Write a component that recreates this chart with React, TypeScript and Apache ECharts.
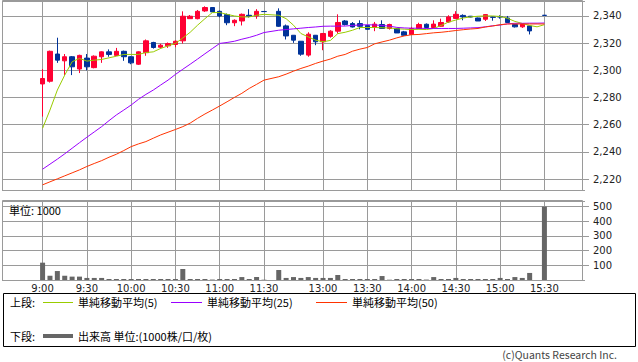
import React, { useEffect, useRef } from "react";
import * as echarts from "echarts";

const PRE_SLOTS = ["8:35", "8:40", "8:45", "8:50", "8:55"];
const AM_TIMES = ["9:00","9:05","9:10","9:15","9:20","9:25","9:30","9:35","9:40","9:45","9:50","9:55","10:00","10:05","10:10","10:15","10:20","10:25","10:30","10:35","10:40","10:45","10:50","10:55","11:00","11:05","11:10","11:15","11:20","11:25","11:30"];
const GAP_SLOTS = ["12:00"];
const PM_TIMES = ["12:30","12:35","12:40","12:45","12:50","12:55","13:00","13:05","13:10","13:15","13:20","13:25","13:30","13:35","13:40","13:45","13:50","13:55","14:00","14:05","14:10","14:15","14:20","14:25","14:30","14:35","14:40","14:45","14:50","14:55","15:00","15:05","15:10","15:15","15:20","15:25","15:30"];
const POST_SLOTS = ["15:35", "15:40", "15:45", "15:50", "15:55"];
const LABEL_TIMES = ["9:00","9:30","10:00","10:30","11:00","11:30","13:00","13:30","14:00","14:30","15:00","15:30"];

// [open, close, low, high]
const AM_OHLC = [
  [2290, 2294, 2266, 2301], [2292, 2314, 2291, 2314.5], [2312, 2307.5, 2305.5, 2324], [2307, 2310, 2296.5, 2312],
  [2310, 2302.6, 2296.5, 2310.5], [2301, 2311, 2298, 2311.5], [2309, 2302.6, 2300, 2312], [2302, 2310.4, 2301.5, 2311],
  [2310, 2313.6, 2305.5, 2314], [2313.6, 2311.7, 2310, 2315.4], [2311, 2314, 2310.5, 2316.5], [2314, 2310, 2307, 2314.5],
  [2310, 2305.5, 2304.5, 2310.5], [2304.5, 2313.6, 2304, 2314], [2313, 2321.7, 2310.7, 2322.7], [2320.5, 2316.8, 2316, 2321],
  [2317, 2318.5, 2316, 2319.5], [2318, 2319.7, 2316.5, 2320.5], [2319, 2321.4, 2317, 2322], [2321.7, 2339.8, 2319.7, 2343.4],
  [2338, 2339.8, 2338, 2340.7], [2338, 2343.4, 2337.5, 2344.4], [2343.7, 2346.2, 2343, 2347.1], [2346.2, 2343, 2342.9, 2346.5],
  [2343.4, 2340, 2339, 2344], [2341, 2335, 2333.2, 2341.8], [2335, 2336.8, 2332.5, 2337.5], [2336.3, 2341.2, 2333, 2341.8],
  [2340.5, 2339.8, 2338.8, 2345], [2340, 2343.4, 2337.9, 2345], [2343.3, 2343.2, 2343, 2343.5]
];
const PM_OHLC = [
  [2343.4, 2332.4, 2332, 2345.6], [2332.7, 2325.3, 2322.7, 2333.7], [2325.8, 2322.2, 2320.2, 2326], [2321.4, 2311.9, 2310.7, 2321.5],
  [2311.2, 2326.6, 2310, 2328], [2325.8, 2321, 2318.5, 2326], [2321, 2327.1, 2314.8, 2327.5], [2325, 2328.8, 2324, 2329.5],
  [2328.8, 2335.2, 2327, 2341.2], [2336.3, 2333.7, 2333, 2337], [2334.4, 2331.9, 2331.5, 2335.5], [2334.4, 2332.4, 2330.2, 2336.8],
  [2333, 2330.2, 2330, 2333.3], [2331.5, 2334, 2328.8, 2335.6], [2333.7, 2330.8, 2330.5, 2336.8], [2330.8, 2333.7, 2330, 2334.3],
  [2330.8, 2327.5, 2327.5, 2331], [2328.3, 2325.8, 2325.5, 2329], [2326.4, 2330.8, 2326, 2332], [2330.8, 2333.7, 2330.5, 2335],
  [2333.9, 2331.5, 2330.8, 2334.5], [2331.5, 2334, 2331, 2336.8], [2332.4, 2335.2, 2332, 2338], [2335.6, 2339.3, 2335, 2340.5],
  [2338.2, 2341.2, 2338, 2343.5], [2340.4, 2339.3, 2336.8, 2341.2], [2339.8, 2339.2, 2339, 2340], [2338.5, 2336.3, 2336.3, 2338.8],
  [2337.6, 2341, 2336.3, 2341.3], [2339.2, 2339, 2336.5, 2339.5], [2339.4, 2339.3, 2338, 2340.5], [2338.5, 2335.2, 2335, 2340],
  [2333.7, 2332, 2331.5, 2334], [2332, 2334, 2331.2, 2334.3], [2332.7, 2329, 2326.4, 2333], null, [2340.5, 2340.4, 2340.3, 2340.6]
];

const AM_MA5 = [2257.4, 2270.8, 2285.5, 2296.5, 2306.3, 2308.8, 2306.8, 2307.5, 2308, 2309.2, 2310.4, 2311.7, 2311.7, 2311.7, 2313.1, 2313.6, 2316.1, 2318, 2319.8, 2323.8, 2328, 2333.2, 2338, 2342.5, 2342.5, 2341.2, 2340, 2339.3, 2339.3, 2340.5, 2341.2];
const PM_MA5 = [2340.5, 2338, 2333.2, 2327.1, 2324.6, 2322.2, 2321, 2322, 2327, 2328, 2329.5, 2331.5, 2331.5, 2331.5, 2331.3, 2331.2, 2330.6, 2330.3, 2330, 2330.2, 2330, 2330.8, 2333, 2335.5, 2337, 2338.5, 2339.3, 2339.8, 2340, 2340, 2339.6, 2338.3, 2336, 2334.5, 2333, 2332, 2333.6];
const AM_MA25 = [2227.3, 2231, 2234.7, 2238.6, 2242.7, 2246.8, 2250.8, 2254.7, 2258.6, 2263, 2267.2, 2270.8, 2274.5, 2278.7, 2282.3, 2285.5, 2289.2, 2292.8, 2297, 2300.8, 2304.5, 2308.3, 2312.2, 2316, 2319.8, 2320.5, 2321.4, 2322.9, 2324.2, 2325.8, 2327.8];
const PM_MA25 = [2329.5, 2330, 2330.5, 2331, 2331.5, 2331.9, 2332.4, 2332.5, 2332.5, 2332.6, 2333, 2333.4, 2333.5, 2333.4, 2333, 2332.5, 2331.6, 2331.2, 2331, 2331, 2330.8, 2330.8, 2330.8, 2330.8, 2330.8, 2331, 2331.2, 2331.4, 2332, 2332.8, 2333.3, 2334.2, 2334.6, 2334.6, 2334.7, 2334.7, 2334.8];
const AM_MA50 = [2215.8, 2218, 2220.2, 2222.4, 2224.6, 2226.8, 2229.3, 2231.5, 2233.6, 2236.1, 2238.3, 2241, 2243.9, 2245.9, 2247.6, 2250.1, 2252.5, 2254.5, 2256.5, 2258.6, 2261.2, 2264.7, 2267.9, 2270.8, 2273.8, 2276.9, 2280.1, 2283.1, 2286.7, 2289.7, 2292.8];
const PM_MA50 = [2295.3, 2297.2, 2299.4, 2301.4, 2303.1, 2305.1, 2306.8, 2308.3, 2310.4, 2311.7, 2314.1, 2315.6, 2316.8, 2319.5, 2320.9, 2322.2, 2323.9, 2325.3, 2326.2, 2326.4, 2327, 2327.6, 2328, 2328.6, 2329.3, 2329.9, 2330.4, 2330.8, 2331.9, 2332.6, 2333.6, 2334.1, 2334.1, 2334.1, 2334.1, 2334.1, 2334.1];

const AM_VOL = [118, 29, 61, 29, 23, 23, 14, 14, 14, 7, 7, 7, 7, 7, 7, 7, 7, 7, 7, 75, 7, 7, 7, 3, 7, 7, 7, 20, 7, 20, 2];
const PM_VOL = [68, 14, 20, 14, 20, 14, 14, 14, 34, 7, 7, 7, 7, 7, 27, 2, 7, 7, 7, 7, 3, 20, 7, 7, 14, 7, 7, 7, 7, 7, 14, 7, 20, 14, 48, null, 500];

const UP = "#ff0033";
const DOWN = "#003399";
const GRID = "#9a9a9a";
const AXIS_FONT = "DejaVu Sans";
const JP_FONT = "Noto Sans CJK JP";

function pad(n: number) {
  return Array.from({ length: n }, () => null);
}
function full(am: any[], pm: any[]) {
  return [...pad(PRE_SLOTS.length), ...am, ...pad(GAP_SLOTS.length), ...pm, ...pad(POST_SLOTS.length)];
}

export default function App() {
  const ref = useRef<HTMLDivElement>(null);
  useEffect(() => {
    if (!ref.current) return;
    const chart = echarts.init(ref.current, undefined, { renderer: "svg" });
    const cats = [...PRE_SLOTS, ...AM_TIMES, ...GAP_SLOTS, ...PM_TIMES, ...POST_SLOTS];
    const isLabel = (_i: number, v: string) => LABEL_TIMES.indexOf(v) >= 0;
    const candles = full(AM_OHLC, PM_OHLC).map((d) => (d == null ? "-" : d));
    const fmt = (v: number) => Math.round(v).toLocaleString("en-US");
    const xBase = (grid: number, labels: boolean) => ({
      type: "category",
      gridIndex: grid,
      data: cats,
      boundaryGap: true,
      axisLine: { show: false },
      axisTick: { show: false },
      axisLabel: labels
        ? { show: true, interval: isLabel, margin: 3, fontSize: 10, fontFamily: AXIS_FONT, color: "#222" }
        : { show: false },
      splitLine: { show: true, interval: isLabel, alignWithLabel: true, lineStyle: { color: GRID, width: 1 } },
    });
    const yBase = (grid: number, min: number, max: number, split: number) => ({
      type: "value",
      gridIndex: grid,
      position: "right",
      min,
      max,
      splitNumber: split,
      axisLine: { show: false },
      axisTick: { show: true, length: 4, lineStyle: { color: GRID } },
      axisLabel: {
        margin: 8,
        fontSize: 10,
        fontFamily: AXIS_FONT,
        color: "#222",
        formatter: fmt,
        showMinLabel: false,
        showMaxLabel: false,
      },
      splitLine: { show: true, lineStyle: { color: GRID, width: 1 } },
    });
    const line = (am: number[], pm: number[], color: string) => ({
      type: "line",
      xAxisIndex: 0,
      yAxisIndex: 0,
      data: full(am, pm),
      symbol: "none",
      connectNulls: true,
      lineStyle: { color, width: 1 },
      itemStyle: { color },
      z: 3,
    });
    const text = (x: number, y: number, t: string, extra: any = {}) => ({
      type: "text",
      x,
      y,
      style: { text: t, fontSize: 11, fontFamily: JP_FONT, fill: "#000", verticalAlign: "middle", ...extra },
    });
    const hline = (x1: number, x2: number, y: number, color: string, w: number) => ({
      type: "line",
      shape: { x1, y1: y, x2, y2: y },
      style: { stroke: color, lineWidth: w },
    });
    chart.setOption({
      animation: false,
      grid: [
        { left: 2, top: 1, width: 583, height: 189 },
        { left: 2, top: 201, width: 583, height: 79 },
      ],
      xAxis: [xBase(0, false), xBase(1, true)],
      yAxis: [yBase(0, 2212, 2351, 7), yBase(1, 0, 538, 5)],
      series: [
        {
          type: "candlestick",
          xAxisIndex: 0,
          yAxisIndex: 0,
          data: candles,
          barWidth: 5,
          itemStyle: { color: UP, color0: DOWN, borderColor: UP, borderColor0: DOWN, borderWidth: 1 },
          z: 2,
        },
        line(AM_MA5, PM_MA5, "#99cc00"),
        line(AM_MA25, PM_MA25, "#9900ff"),
        line(AM_MA50, PM_MA50, "#ff3300"),
        {
          type: "bar",
          xAxisIndex: 1,
          yAxisIndex: 1,
          data: full(AM_VOL, PM_VOL),
          barWidth: 5,
          itemStyle: { color: "#666666" },
        },
      ],
      graphic: [
        { type: "rect", shape: { x: 2.5, y: 0.5, width: 580, height: 190 }, style: { fill: "none", stroke: GRID, lineWidth: 1 }, z: 10 },
        { type: "rect", shape: { x: 2.5, y: 200.5, width: 580, height: 80 }, style: { fill: "none", stroke: GRID, lineWidth: 1 }, z: 10 },
        text(9, 210, "単位: 1000"),
        { type: "rect", shape: { x: 3.5, y: 293.5, width: 632, height: 53 }, style: { fill: "none", stroke: "#000", lineWidth: 1 } },
        text(10, 302, "上段:"),
        hline(43, 73, 302.5, "#99cc00", 1),
        text(78, 302, "単純移動平均(5)"),
        hline(171, 202, 302.5, "#9900ff", 1),
        text(207, 302, "単純移動平均(25)"),
        hline(316, 347, 302.5, "#ff3300", 1),
        text(352, 302, "単純移動平均(50)"),
        text(10, 336, "下段:"),
        hline(43, 73, 336, "#666666", 4),
        text(78, 336, "出来高 単位:(1000株/口/枚)"),
        text(617, 354, "(c)Quants Research Inc.", { align: "right", fill: "#444", fontSize: 10.5 }),
      ],
    });
    return () => chart.dispose();
  }, []);
  return <div ref={ref} style={{ position: "absolute", left: 0, top: 0, width: 638, height: 362 }} />;
}
